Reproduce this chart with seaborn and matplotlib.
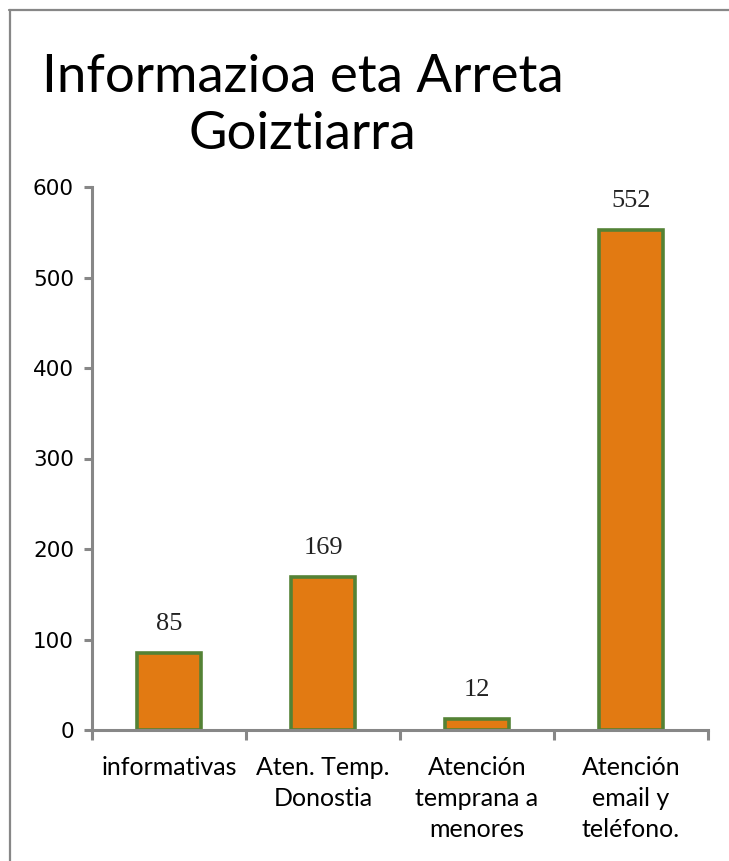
import matplotlib
matplotlib.use('Agg')
import matplotlib.pyplot as plt
import seaborn as sns
import pandas as pd
from matplotlib.lines import Line2D

categories = ['informativas', 'Aten. Temp.\nDonostia', 'Atención\ntemprana a\nmenores', 'Atención\nemail y\nteléfono.']
values = [85, 169, 12, 552]
yticks = [0, 100, 200, 300, 400, 500, 600]
title = 'Informazioa eta Arreta\nGoiztiarra'

bar_color = '#E27A12'
edge_color = '#548235'
axis_color = '#878787'

df = pd.DataFrame({'cat': categories, 'val': values})

sns.set_style('white')
plt.rcParams['font.family'] = ['DejaVu Sans']
plt.rcParams['text.color'] = 'black'

fig = plt.figure(figsize=(7.29, 8.61), dpi=100)
ax = fig.add_axes([92 / 729, 131 / 861, (708 - 92) / 729, (730 - 187) / 861])

sns.barplot(data=df, x='cat', y='val', color=bar_color, edgecolor=edge_color,
            linewidth=2.6, width=0.41, saturation=1, ax=ax)

ax.set_xlim(-0.5, 3.5)
ax.set_ylim(0, 600)
ax.set_yticks(yticks)
ax.set_yticklabels([str(t) for t in yticks], fontsize=15.5, family='DejaVu Sans',
                   color='black')
ax.set_xlabel('')
ax.set_ylabel('')

for s in ['top', 'right']:
    ax.spines[s].set_visible(False)
for s in ['left', 'bottom']:
    ax.spines[s].set_color(axis_color)
    ax.spines[s].set_linewidth(2.2)

ax.tick_params(axis='y', which='major', direction='out', length=6, width=2.2,
               color=axis_color, pad=7, left=True)
ax.tick_params(axis='x', which='major', length=0, pad=19, bottom=True)
ax.set_xticks([-0.5, 0.5, 1.5, 2.5, 3.5], minor=True)
ax.tick_params(axis='x', which='minor', direction='out', length=7, width=2.2,
               color=axis_color, bottom=True)
ax.set_xticklabels(categories, fontsize=18, family='Lato', color='black',
                   linespacing=1.42, va='top', ha='center')

for i, v in enumerate(values):
    ax.annotate(str(v), (i, v), xytext=(0, 29), textcoords='offset pixels',
                ha='center', va='center', fontsize=19, family='Liberation Serif',
                color='#222222')

fig.text(0.415, 0.877, title, ha='center', va='center', fontsize=38,
         family='Lato', color='black', linespacing=1.25)

# chart frame (top and left edges visible)
fig.add_artist(Line2D([9 / 729, 1.0], [1 - 9.5 / 861, 1 - 9.5 / 861],
                      transform=fig.transFigure, color=axis_color, lw=1.6))
fig.add_artist(Line2D([9.5 / 729, 9.5 / 729], [0.0, 1 - 9.5 / 861],
                      transform=fig.transFigure, color=axis_color, lw=1.6))

fig.savefig('out.png', dpi=100)
